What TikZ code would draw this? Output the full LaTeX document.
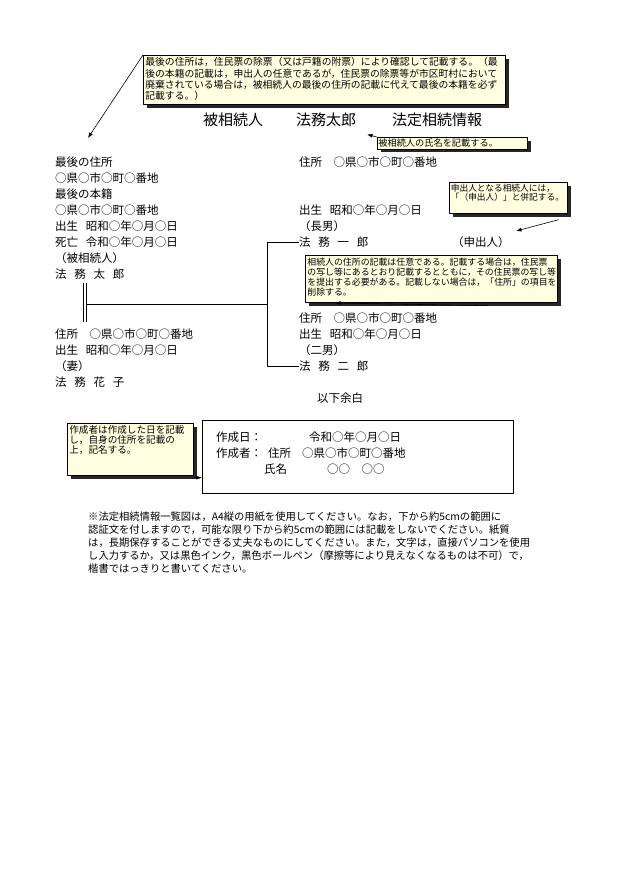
\documentclass[tikz,border=0pt]{standalone}
\usepackage{fontspec}
\setmainfont{Noto Sans CJK JP}[WordSpace=3]
\usetikzlibrary{arrows.meta,shadows}

\begin{document}
\begin{tikzpicture}[x=1pt,y=-1pt,line join=round,
    testo/.style={anchor=west,inner sep=0pt,font=\fontsize{11.5pt}{16pt}\selectfont},
    titolo/.style={anchor=west,inner sep=0pt,font=\fontsize{15pt}{18pt}\selectfont},
    nota/.style={anchor=north west,draw=black,line width=.7pt,fill=notaCarta,align=left,
      general shadow={fill=notaOmbra,shadow xshift=3.5pt,shadow yshift=-3.5pt}},
    freccia/.style={-{Latex[length=5.5pt,width=4pt]},line width=.6pt},
    linea/.style={line width=.8pt}]
  \definecolor{notaCarta}{HTML}{FFFFE1}
  \definecolor{notaOmbra}{HTML}{262626}
  \fill[white] (0,0) rectangle (633,895);
  \useasboundingbox (0,0) rectangle (633,895);

  % Intestazione.
  \node[titolo] (tit1) at (203,120) {被相続人};
  \node[titolo] (tit2) at (296,120) {法務太郎};
  \node[titolo] (tit3) at (392,120) {法定相続情報};

  % Colonna del defunto.
  \foreach \i/\riga in {0/最後の住所,1/○県○市○町○番地,2/最後の本籍,3/○県○市○町○番地,
      4/出生 昭和○年○月○日,5/死亡 令和○年○月○日,6/（被相続人）,7/法 務 太 郎}{
    \node[testo] (def\i) at (55,162+16*\i) {\riga};
  }
  \node[testo] (con0) at (55,334) {住所　○県○市○町○番地};
  \node[testo] (con1) at (55,350) {出生 昭和○年○月○日};
  \node[testo] (con2) at (55,366) {（妻）};
  \node[testo] (con3) at (55,382) {法 務 花 子};

  % Figli.
  \node[testo] (fa0) at (299,162) {住所　○県○市○町○番地};
  \node[testo] (fa1) at (299,210) {出生 昭和○年○月○日};
  \node[testo] (fa2) at (299,226) {（長男）};
  \node[testo] (figlio1) at (299,242) {法 務 一 郎};
  \node[testo] (richiedente) at (452,242) {（申出人）};
  \node[testo] (fb0) at (299,318) {住所　○県○市○町○番地};
  \node[testo] (fb1) at (299,334) {出生 昭和○年○月○日};
  \node[testo] (fb2) at (299,350) {（二男）};
  \node[testo] (figlio2) at (299,366) {法 務 二 郎};
  \node[testo] (fine) at (317,398) {以下余白};

  % Linee di parentela.
  \coordinate (coniugiSu) at (85,283);
  \coordinate (coniugi) at (85,322);
  \coordinate (nozzeSx) at (86.5,304);
  \coordinate (nozzeDx) at (267,304);
  \draw[linea,double,double distance=2.4pt] (coniugiSu) -- (coniugi);
  \draw[linea] (nozzeSx) -- (nozzeDx);
  \draw[linea] (figlio1.west) -- (figlio1.west -| nozzeDx)
    -- (figlio2.west -| nozzeDx) -- (figlio2.west);

  % Riquadro del compilatore.
  \node[draw,line width=.7pt,anchor=north west,inner sep=0pt,
        minimum width=311pt,minimum height=73pt] (riquadro) at (202,420) {};
  \node[testo] (data) at (216,437) {作成日：};
  \node[testo] (dataV) at (309,437) {令和○年○月○日};
  \node[testo] (autore) at (216,453) {作成者：};
  \node[testo] (autoreA) at (268,453) {住所};
  \node[testo] (autoreB) at (302,453) {○県○市○町○番地};
  \node[testo] (nome) at (264,469) {氏名};
  \node[testo] (nomeV) at (327,469) {○○　○○};

  % Note gialle con ombra.
  \node[nota,font=\fontsize{9.8pt}{11.3pt}\selectfont,inner sep=2pt,text width=358pt,
        text height=8.6pt,text depth=36.4pt] (nota1) at (143,55)
    {最後の住所は，住民票の除票（又は戸籍の附票）により確認して記載する。（最\\
     後の本籍の記載は，申出人の任意であるが，住民票の除票等が市区町村において\\
     廃棄されている場合は，被相続人の最後の住所の記載に代えて最後の本籍を必ず\\
     記載する。）};
  \node[nota,font=\fontsize{9.2pt}{10pt}\selectfont,inner sep=1pt,text width=148pt,
        text height=8pt,text depth=1.5pt] (nota2) at (377,137) {被相続人の氏名を記載する。};
  \node[nota,font=\fontsize{8.7pt}{9.2pt}\selectfont,inner sep=1.5pt,text width=115pt,
        text height=7.7pt,text depth=20.3pt] (nota3) at (449,182)
    {申出人となる相続人には，\\「（申出人）」と併記する。};
  \node[nota,font=\fontsize{8.9pt}{10pt}\selectfont,inner sep=2pt,text width=248pt,
        text height=7.9pt,text depth=35.1pt] (nota4) at (305,255)
    {相続人の住所の記載は任意である。記載する場合は，住民票\\
     の写し等にあるとおり記載するとともに，その住民票の写し等\\
     を提出する必要がある。記載しない場合は，「住所」の項目を\\
     削除する。};
  \node[nota,font=\fontsize{9.6pt}{9.8pt}\selectfont,inner sep=2pt,text width=122pt,
        text height=8.4pt,text depth=39.6pt] (nota5) at (67,423)
    {作成者は作成した日を記載\\し，自身の住所を記載の\\上，記名する。};

  \coordinate (punta1) at (88,138);
  \coordinate (punta2) at (367,134.5);
  \coordinate (punta3) at (516,231);
  \coordinate (punta4) at (335,303);
  \draw[freccia] (nota1.north west) -- (punta1);
  \draw[freccia] (nota2.north west) -- (punta2);
  \draw[freccia] ([shift={(-9pt,-6pt)}]nota3.south east) -- (punta3);
  \draw[freccia] ([shift={(-70pt,-3pt)}]nota4.south east) -- (punta4);
  \draw[freccia] ([yshift=-2pt]nota5.south east) -- ([yshift=-2pt]nota5.south east -| riquadro.west);

  % Avvertenza in fondo.
  \node[anchor=west,inner sep=0pt,align=left,font=\fontsize{10.3pt}{12.8pt}\selectfont]
    (avvertenza) at (88,542.5)
    {※法定相続情報一覧図は，A4縦の用紙を使用してください。なお，下から約5cmの範囲に\\
     認証文を付しますので，可能な限り下から約5cmの範囲には記載をしないでください。紙質\\
     は，長期保存することができる丈夫なものにしてください。また，文字は，直接パソコンを使用\\
     し入力するか，又は黒色インク，黒色ボールペン（摩擦等により見えなくなるものは不可）で，\\
     楷書ではっきりと書いてください。};
\end{tikzpicture}
\end{document}
